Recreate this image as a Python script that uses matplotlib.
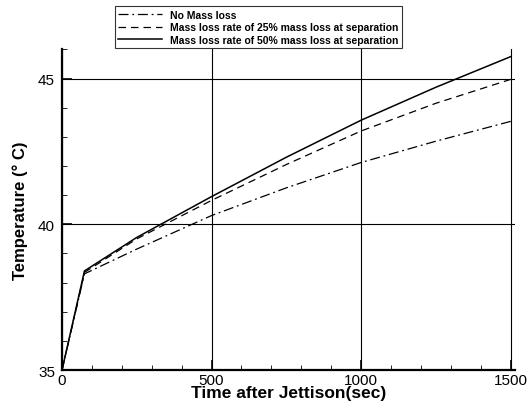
import matplotlib
matplotlib.use('Agg')
import matplotlib.pyplot as plt
from matplotlib.ticker import MultipleLocator

# time after jettison (sec)
time = [0, 75, 250, 500, 750, 1000, 1250, 1500]
# temperature (deg C) for each case
no_loss = [35.0, 38.3, 39.15, 40.3, 41.25, 42.12, 42.85, 43.53]
loss_25 = [35.0, 38.35, 39.5, 40.82, 42.05, 43.2, 44.15, 44.97]
loss_50 = [35.0, 38.4, 39.55, 40.95, 42.3, 43.57, 44.7, 45.75]

plt.rcParams['font.family'] = ['Liberation Sans', 'DejaVu Sans']

fig = plt.figure(figsize=(5.3, 4.06), dpi=100)
ax = fig.add_axes([0.117, 0.086, 0.855, 0.79])

ax.plot(time, no_loss, color='black', lw=0.9, linestyle=(0, (8, 3, 1.5, 3)), label='No Mass loss')
ax.plot(time, loss_25, color='black', lw=0.9, linestyle=(0, (6, 4)),
        label='Mass loss rate of 25% mass loss at separation')
ax.plot(time, loss_50, color='black', lw=1.1, linestyle='-',
        label='Mass loss rate of 50% mass loss at separation')

ax.set_xlim(0, 1515)
ax.set_ylim(35, 46)
ax.xaxis.set_major_locator(MultipleLocator(500))
ax.xaxis.set_minor_locator(MultipleLocator(100))
ax.yaxis.set_major_locator(MultipleLocator(5))
ax.yaxis.set_minor_locator(MultipleLocator(1))
ax.tick_params(which='major', direction='in', length=7, width=1.2, labelsize=11)
ax.tick_params(axis='x', which='major', pad=2)
ax.tick_params(axis='y', which='major', pad=5)
ax.tick_params(which='minor', direction='in', length=3.5, width=0.6)
ax.grid(True, which='major', color='black', lw=0.8)

for s in ['top', 'right']:
    ax.spines[s].set_visible(False)
ax.spines['left'].set_linewidth(1.6)
ax.spines['bottom'].set_linewidth(1.6)

ax.set_xlabel('Time after Jettison(sec)', fontsize=12.5, fontweight='bold', labelpad=-1)
ax.set_ylabel('Temperature (° C)', fontsize=12, fontweight='bold', labelpad=7)

leg = ax.legend(loc='upper left', bbox_to_anchor=(0.106, 1.15),
                prop={'weight': 'bold', 'size': 7.5}, frameon=True, fancybox=False,
                handlelength=4.2, handletextpad=0.8, borderpad=0.3, labelspacing=0.25)
leg.get_frame().set_edgecolor('black')
leg.get_frame().set_linewidth(0.8)

fig.savefig('out.png', dpi=100)
